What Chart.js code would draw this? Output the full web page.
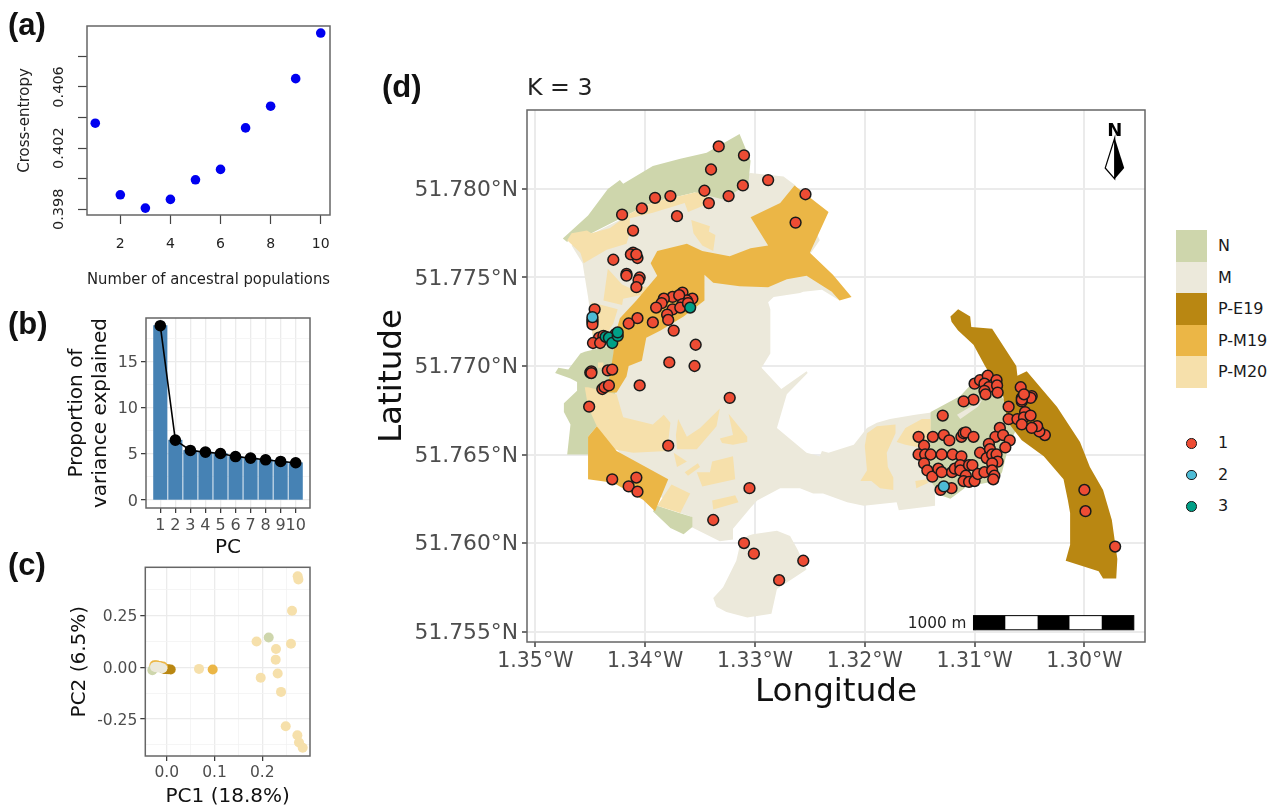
<!DOCTYPE html>
<html>
<head>
<meta charset="utf-8">
<title>Ancestry panels</title>
<script src="https://cdn.jsdelivr.net/npm/chart.js@4/dist/chart.umd.js"></script>
<style>
  html, body { margin: 0; padding: 0; background: #fff; }
  body { width: 1275px; height: 806px; position: relative; overflow: hidden; font-family: "DejaVu Sans", sans-serif; }
  canvas { position: absolute; }
  .tag { position: absolute; font: bold 31px "Liberation Sans", sans-serif; color: #111; line-height: 34px; }
  .lg { position: absolute; font-size: 16px; color: #1a1a1a; line-height: 18px; }
  .sw { position: absolute; left: 1176px; width: 31.3px; height: 31.6px; }
  .dot { position: absolute; left: 1186.2px; width: 8.5px; height: 8.5px; border-radius: 50%; border: 1.4px solid #1a1a1a; }
</style>
</head>
<body>
<canvas id="a"></canvas>
<canvas id="b"></canvas>
<canvas id="c"></canvas>
<canvas id="d"></canvas>
<div class="tag" style="left:8px;top:8px">(a)</div>
<div class="tag" style="left:8px;top:307px">(b)</div>
<div class="tag" style="left:8px;top:548px">(c)</div>
<div class="tag" style="left:382px;top:70px">(d)</div>
<div id="legend"></div>

<script>
// panel a
const kValues = [1, 2, 3, 4, 5, 6, 7, 8, 9, 10];
const crossEntropy = [0.40363, 0.39895, 0.39808, 0.39865, 0.39993, 0.40061, 0.40332, 0.40474, 0.40654, 0.40952];
const kTicks = [2, 4, 6, 8, 10];
const ceTicks = [0.398, 0.400, 0.402, 0.404, 0.406, 0.408];
const ceLabelled = [0.398, 0.402, 0.406];

// panel b
const pcIndex = [1, 2, 3, 4, 5, 6, 7, 8, 9, 10];
const varExplained = [18.84, 6.47, 5.36, 5.18, 5.03, 4.7, 4.53, 4.35, 4.17, 4.03];
const varMajor = [0, 5, 10, 15];
const varMinor = [2.5, 7.5, 12.5, 17.5];

// panel c
const pcaM = [[-0.0244, 0.0016], [-0.0195, -0.0016], [-0.014, -0.0016], [-0.009, -0.005], [-0.021, 0.001], [-0.0165, 0.0]];
const pcaPM20 = [[0.274, 0.439], [0.2755, 0.4236], [0.2622, 0.2723], [0.26, 0.113], [0.188, 0.124], [0.2287, 0.0876],
  [0.228, 0.0366], [0.2322, -0.03], [0.1967, -0.051], [0.2392, -0.119], [0.249, -0.285], [0.2734, -0.328],
  [0.2768, -0.363], [0.2845, -0.3885], [0.0676, -0.008], [-0.022, 0.002]];
const pcaN = [[0.2134, 0.1433], [-0.03, -0.014]];
const pcaPM19 = [[0.0962, -0.011], [-0.0258, 0.0096], [-0.021, 0.009], [-0.014, 0.006], [-0.008, 0.003]];
const pcaPE19 = [[0.0084, -0.011], [-0.0035, -0.008], [-0.008, -0.006], [0.003, -0.01], [-0.002, -0.009]];
const pc1Major = [0, 0.1, 0.2];
const pc1Minor = [0.05, 0.15, 0.25];
const pc2Major = [-0.25, 0, 0.25];
const pc2Minor = [-0.375, -0.125, 0.125, 0.375];

// panel d, map tick values
const lonTicks = [-1.35, -1.34, -1.33, -1.32, -1.31, -1.30];
const latTicks = [51.755, 51.76, 51.765, 51.77, 51.775, 51.78];

// panel d, land use polygons as [lon, lat]
const areaM = [[-1.3304,51.7809],[-1.3274,51.7807],[-1.3263,51.7802],[-1.3241,51.7771],[-1.325,51.7763],[-1.3223,51.7737],[-1.3239,51.7743],[-1.3256,51.7742],[-1.3259,51.77413],[-1.3283,51.7739],[-1.3288,51.7736],[-1.3286,51.7732],[-1.3286,51.7707],[-1.3294,51.7699],[-1.3276,51.7687],[-1.3253,51.7697],[-1.3252,51.7696],[-1.3271,51.7684],[-1.328,51.7665],[-1.3253,51.7651],[-1.3241,51.7649],[-1.3239,51.7652],[-1.3233,51.7651],[-1.321,51.76555],[-1.3198,51.7665],[-1.3189,51.7668],[-1.3177,51.767],[-1.3154,51.76725],[-1.3136,51.7674],[-1.3136,51.7621],[-1.3169,51.76185],[-1.3171,51.7623],[-1.3201,51.7621],[-1.3216,51.7623],[-1.3238,51.7628],[-1.3247,51.7628],[-1.3259,51.7631],[-1.3277,51.7631],[-1.3298,51.7624],[-1.3304,51.762],[-1.332,51.7608],[-1.332,51.7602],[-1.3332,51.7601],[-1.3358,51.7609],[-1.3358,51.7615],[-1.3368,51.7617],[-1.3405,51.7636],[-1.3432,51.7658],[-1.345,51.7687],[-1.3448,51.772],[-1.3452,51.7739],[-1.3457,51.7758],[-1.3467,51.7768],[-1.3441,51.7777],[-1.3396,51.7791],[-1.335,51.7797]];
const areaMSouth = [[-1.3302,51.7605],[-1.328,51.7607],[-1.3268,51.7604],[-1.3261,51.7596],[-1.3253,51.7585],[-1.328,51.7574],[-1.3285,51.756],[-1.3307,51.7558],[-1.3326,51.7561],[-1.3335,51.7564],[-1.3338,51.7569],[-1.3329,51.7575],[-1.3317,51.759],[-1.3314,51.7598],[-1.3307,51.7604]];
const areaMInner = [[-1.3116,51.76725],[-1.3093,51.7681],[-1.3097,51.7677],[-1.3113,51.767]];
const areaNTop = [[-1.3475,51.7772],[-1.3452,51.7785],[-1.3434,51.78],[-1.3423,51.7805],[-1.342,51.7803],[-1.3393,51.7813],[-1.3368,51.7817],[-1.3344,51.78205],[-1.3314,51.7831],[-1.3304,51.7816],[-1.3306,51.7803],[-1.3329,51.7794],[-1.3335,51.7795],[-1.3355,51.7798],[-1.3368,51.7796],[-1.3383,51.7794],[-1.3399,51.7791],[-1.3414,51.7786],[-1.3449,51.7775],[-1.3467,51.7773],[-1.3471,51.777]];
const areaNWest = [[-1.3482,51.7696],[-1.3479,51.7699],[-1.347,51.7698],[-1.3459,51.7707],[-1.3455,51.7708],[-1.3429,51.7712],[-1.3427,51.7685],[-1.3444,51.7666],[-1.3452,51.766],[-1.3452,51.765],[-1.3471,51.765],[-1.3468,51.7667],[-1.3474,51.7674],[-1.3474,51.7679],[-1.3462,51.7686],[-1.3462,51.7691],[-1.3468,51.7693]];
const areaNSouth = [[-1.3389,51.7621],[-1.3369,51.7617],[-1.3357,51.76147],[-1.3357,51.7609],[-1.3365,51.7605],[-1.3377,51.76085],[-1.3393,51.7618]];
const areaNEast = [[-1.314,51.7674],[-1.3113,51.7683],[-1.3092,51.7697],[-1.3071,51.7679],[-1.3063,51.7663],[-1.3069,51.7655],[-1.3075,51.764],[-1.308,51.7635],[-1.3107,51.7632],[-1.3122,51.7625],[-1.3131,51.7627],[-1.3141,51.7636]];
const areaPE19 = [[-1.3122,51.7728],[-1.3115,51.7732],[-1.3104,51.7728],[-1.3103,51.7722],[-1.3084,51.7721],[-1.3062,51.77],[-1.3061,51.76945],[-1.30525,51.7697],[-1.3025,51.7677],[-1.3004,51.7657],[-1.2995,51.7643],[-1.2983,51.763],[-1.2975,51.7613],[-1.297,51.7591],[-1.2971,51.758],[-1.2983,51.758],[-1.2987,51.7584],[-1.3017,51.759],[-1.3013,51.7599],[-1.3013,51.7617],[-1.3015,51.7624],[-1.3019,51.7636],[-1.3037,51.7649],[-1.3057,51.7658],[-1.307,51.76685],[-1.3074,51.7683],[-1.30905,51.77],[-1.3101,51.7712],[-1.3115,51.772],[-1.3121,51.7725]];
const areaPM19Centre = [[-1.3395,51.7758],[-1.3389,51.7765],[-1.3362,51.7769],[-1.3348,51.7765],[-1.3323,51.7762],[-1.3304,51.77665],[-1.3288,51.7768],[-1.3304,51.7784],[-1.3277,51.7792],[-1.3264,51.7802],[-1.3233,51.7787],[-1.325,51.7764],[-1.3229,51.77515],[-1.3212,51.7739],[-1.3223,51.7737],[-1.323,51.7742],[-1.3253,51.7751],[-1.3271,51.7749],[-1.3288,51.77445],[-1.3314,51.7745],[-1.3338,51.7747],[-1.3346,51.77515],[-1.3346,51.7737],[-1.3365,51.7728],[-1.3386,51.772],[-1.3399,51.7716],[-1.3403,51.7703],[-1.3415,51.77],[-1.3417,51.7694],[-1.3426,51.7685],[-1.3436,51.7685],[-1.3432,51.7695],[-1.3429,51.7707],[-1.3428,51.7716],[-1.3423,51.7727],[-1.3408,51.7737],[-1.3389,51.7751]];
const areaPM19South = [[-1.3444,51.7666],[-1.3426,51.7652],[-1.3379,51.7636],[-1.3391,51.7618],[-1.3402,51.76245],[-1.3429,51.7634],[-1.3452,51.7636],[-1.3452,51.766]];
const areaPM20Band = [[-1.3471,51.7771],[-1.3467,51.7775],[-1.3453,51.77765],[-1.3449,51.7775],[-1.3432,51.7778],[-1.3414,51.7786],[-1.3399,51.7791],[-1.3383,51.7794],[-1.3368,51.7796],[-1.3355,51.7798],[-1.3344,51.7798],[-1.3341,51.7792],[-1.3361,51.7787],[-1.3364,51.7792],[-1.3393,51.77865],[-1.3414,51.77835],[-1.3414,51.7775],[-1.3417,51.7769],[-1.3435,51.77656],[-1.3456,51.7758],[-1.3459,51.7764]];
const areaPM20North = [[-1.3358,51.77825],[-1.3341,51.7779],[-1.3342,51.7776],[-1.3336,51.7774],[-1.3338,51.7765],[-1.3348,51.7768],[-1.3356,51.7775]];
const areaPM20Mid = [[-1.3434,51.7755],[-1.3421,51.7746],[-1.3414,51.7744],[-1.3394,51.7745],[-1.3397,51.7741],[-1.342,51.7738],[-1.3421,51.77345],[-1.3438,51.7737],[-1.3436,51.7746]];
const areaPM20West = [[-1.3449,51.7736],[-1.3425,51.7732],[-1.3429,51.7724],[-1.3438,51.7715],[-1.3448,51.7718]];
const areaPM20Speck = [[-1.3443,51.7702],[-1.3438,51.7702],[-1.3438,51.7699],[-1.3443,51.7699]];
const areaPM20Arc = [[-1.3455,51.7688],[-1.3452,51.7688],[-1.3426,51.7684],[-1.342,51.7671],[-1.3393,51.7667],[-1.3383,51.76725],[-1.3377,51.7668],[-1.338,51.7652],[-1.3411,51.7651],[-1.3429,51.7653],[-1.3438,51.766],[-1.3444,51.7666],[-1.3452,51.7677]];
const areaPM20P1 = [[-1.337,51.767],[-1.3362,51.766],[-1.335,51.7665],[-1.3332,51.7676],[-1.3335,51.7666],[-1.3353,51.7653],[-1.3371,51.7653],[-1.3372,51.7661]];
const areaPM20P2 = [[-1.3324,51.7673],[-1.3307,51.766],[-1.3307,51.7657],[-1.332,51.76555],[-1.333,51.76565],[-1.3332,51.7659],[-1.332,51.7661]];
const areaPM20P3 = [[-1.3374,51.7651],[-1.3362,51.7646],[-1.3371,51.7643]];
const areaPM20P4 = [[-1.3364,51.764],[-1.3352,51.7645],[-1.335,51.7643],[-1.3361,51.7638]];
const areaPM20P5 = [[-1.3353,51.764],[-1.3341,51.764],[-1.3339,51.7646],[-1.332,51.7649],[-1.3318,51.7636],[-1.3348,51.7632]];
const areaPM20P6 = [[-1.3339,51.7624],[-1.3318,51.7627],[-1.3315,51.7623],[-1.3338,51.7619]];
const areaPM20P7 = [[-1.3376,51.7633],[-1.3359,51.7628],[-1.3368,51.7617],[-1.3389,51.7621]];
const areaPM20R1 = [[-1.3198,51.7662],[-1.3189,51.7666],[-1.3172,51.7667],[-1.3172,51.7662],[-1.318,51.7651],[-1.3179,51.7643],[-1.3174,51.7637],[-1.3174,51.763],[-1.3186,51.7631],[-1.3194,51.7635],[-1.3204,51.7635],[-1.3198,51.7641],[-1.32,51.7655]];
const areaPM20R2 = [[-1.3171,51.7657],[-1.3163,51.7665],[-1.3148,51.767],[-1.314,51.767],[-1.314,51.7658],[-1.315,51.7654],[-1.3163,51.76555]];
const areaPM20R3 = [[-1.3154,51.7635],[-1.3144,51.7636],[-1.3142,51.7634],[-1.3153,51.7631]];

// panel d, samples by cluster
const samples1 = [[-1.3333,51.7824],[-1.331,51.7819],[-1.334,51.7811],[-1.3288,51.7805],[-1.3346,51.7799],[-1.3311,51.7802],[-1.3324,51.7796],[-1.3254,51.7797],[-1.3342,51.7792],[-1.3377,51.7796],[-1.3391,51.7795],[-1.3403,51.7789],[-1.3421,51.77855],[-1.3371,51.77846],[-1.3263,51.7781],[-1.3411,51.77765],
  [-1.3411,51.7764],[-1.3407,51.7761],[-1.3413,51.7763],[-1.3408,51.7763],[-1.3429,51.776],[-1.3417,51.7752],[-1.3417,51.7751],[-1.3405,51.775],[-1.3406,51.77485],[-1.3408,51.77445],
  [-1.3366,51.77415],[-1.3375,51.7739],[-1.3383,51.7738],[-1.3357,51.7738],[-1.3362,51.7737],[-1.3369,51.774],[-1.3366,51.7735],[-1.3385,51.77355],[-1.339,51.7733],[-1.3375,51.7732],[-1.3368,51.7733],[-1.3361,51.77355],[-1.338,51.7729],[-1.3379,51.7726],[-1.3393,51.77246],[-1.3407,51.7727],[-1.3415,51.7724],[-1.3374,51.772],
  [-1.3448,51.77249],[-1.3448,51.7726],[-1.3448,51.77235],[-1.3446,51.7732],
  [-1.3442,51.7716],[-1.3438,51.7717],[-1.3427,51.7718],[-1.34475,51.7713],[-1.3441,51.7713],
  [-1.345,51.76963],[-1.3449,51.7697],[-1.3449,51.7696],[-1.3434,51.76975],[-1.343,51.7698],[-1.3439,51.7687],[-1.3437,51.7688],[-1.3433,51.7689],[-1.3405,51.7689],[-1.3451,51.7677],
  [-1.3354,51.7712],[-1.3378,51.7702],[-1.3355,51.77],[-1.3323,51.7682],[-1.3379,51.7655],[-1.3305,51.7631],[-1.3338,51.7613],[-1.331,51.76],[-1.3301,51.7594],[-1.3256,51.759],[-1.3278,51.7579],[-1.343,51.7636],[-1.3408,51.7637],[-1.3415,51.7632],[-1.3407,51.7629],
  [-1.31,51.769],[-1.3095,51.7692],[-1.3088,51.76945],[-1.3091,51.769],[-1.308,51.7692],[-1.3087,51.7688],[-1.30795,51.7689],[-1.3091,51.7686],[-1.309,51.7684],[-1.3079,51.7685],[-1.3101,51.7681],[-1.311,51.768],[-1.3129,51.7672],
  [-1.3058,51.7688],[-1.3048,51.7683],[-1.3049,51.7682],[-1.3057,51.7682],[-1.3057,51.768],[-1.3057,51.7681],[-1.3055,51.7684],[-1.3069,51.7677],[-1.3054,51.7674],[-1.3069,51.767],[-1.3061,51.767],[-1.3055,51.7671],[-1.3049,51.7672],[-1.3057,51.7667],[-1.3036,51.7661],[-1.3041,51.7663],[-1.3043,51.7666],[-1.3048,51.7665],
  [-1.3077,51.7665],[-1.3081,51.766],[-1.3074,51.7661],[-1.3068,51.7658],[-1.3072,51.7654],
  [-1.3151,51.766],[-1.3138,51.766],[-1.3128,51.7661],[-1.3123,51.7658],[-1.3112,51.766],[-1.311,51.7662],[-1.3108,51.76625],[-1.3101,51.766],[-1.3146,51.7655],[-1.3151,51.765],[-1.3145,51.7650],[-1.314,51.765],[-1.313,51.765],[-1.312,51.765],[-1.3112,51.7649],[-1.3095,51.7651],
  [-1.3087,51.7656],[-1.3086,51.7653],[-1.3089,51.7648],[-1.3084,51.765],[-1.308,51.765],[-1.3079,51.7646],[-1.3084,51.7645],[-1.3146,51.7645],[-1.3143,51.7641],[-1.31385,51.76375],[-1.3133,51.7642],[-1.313,51.764],[-1.31205,51.764],[-1.3118,51.7642],[-1.3113,51.7644],[-1.3113,51.7641],[-1.3105,51.7644],[-1.3102,51.7644],[-1.3108,51.7638],[-1.311,51.7635],[-1.3105,51.76345],[-1.31,51.7635],[-1.3097,51.7639],[-1.3091,51.764],[-1.3084,51.7641],[-1.3082,51.7638],[-1.3083,51.7636],[-1.3131,51.763],[-1.3121,51.7631],
  [-1.3,51.763],[-1.2999,51.7618],[-1.2972,51.7598]];
const samples2 = [[-1.3448,51.77276],[-1.3128,51.7632]];
const samples3 = [[-1.3436,51.77165],[-1.3433,51.7716],[-1.343,51.7713],[-1.3425,51.7717],[-1.3425,51.7719],[-1.3359,51.7733]];

// legend
const areaLegend = ["N", "M", "P-E19", "P-M19", "P-M20"];
const clusterLegend = ["1", "2", "3"];

const colN = "#CED6AC", colM = "#ECE9DB", colE19 = "#B98712", colM19 = "#EBB646", colM20 = "#F6E0AB";
const clusterColors = ["#EE4C34", "#4DBBD5", "#00A087"];
const tickGrey = "#4D4D4D";
const font = "DejaVu Sans";

Chart.defaults.font.family = font;
Chart.defaults.animation = false;
Chart.defaults.responsive = false;
Chart.defaults.plugins.legend.display = false;
Chart.defaults.plugins.tooltip.enabled = false;

function place(id, left, top, w, h) {
    const c = document.getElementById(id);
    c.width = w; c.height = h;
    c.style.left = left + "px"; c.style.top = top + "px";
    c.style.width = w + "px"; c.style.height = h + "px";
    return c;
}

// rectangle round the plot, ggplot style
const panelBox = {
    id: "panelBox",
    afterDatasetsDraw(chart) {
        const { ctx, chartArea: a } = chart;
        ctx.save();
        ctx.strokeStyle = "#666";
        ctx.lineWidth = 1.5;
        ctx.strokeRect(a.left, a.top, a.right - a.left, a.bottom - a.top);
        ctx.restore();
    }
};

function fixedTicks(values) {
    return scale => { scale.ticks = values.map(v => ({ value: v })); };
}
const isIn = (list, v) => list.some(m => Math.abs(m - v) < 1e-9);
const toXY = pts => pts.map(p => ({ x: p[0], y: p[1] }));

// panel a
const rotatedCeTicks = {
    id: "rotatedCeTicks",
    afterDraw(chart) {
        const { ctx, scales } = chart;
        ctx.save();
        ctx.font = "14.5px " + font;
        ctx.fillStyle = "#222";
        ctx.textAlign = "center";
        ctx.textBaseline = "middle";
        ceLabelled.forEach(v => {
            ctx.save();
            ctx.translate(59.5, scales.y.getPixelForValue(v));
            ctx.rotate(-Math.PI / 2);
            ctx.fillText(v.toFixed(3), 0, 0);
            ctx.restore();
        });
        ctx.restore();
    }
};
new Chart(place("a", 0, 0, 345, 295), {
    type: "scatter",
    data: { datasets: [{ data: kValues.map((k, i) => ({ x: k, y: crossEntropy[i] })), backgroundColor: "#0000F0", pointRadius: 4.8, pointBorderWidth: 0 }] },
    options: {
        layout: { padding: { top: 26, right: 15 } },
        scales: {
            x: {
                type: "linear", min: 0.67, max: 10.37,
                afterBuildTicks: fixedTicks(kTicks),
                afterFit: s => { s.height = 80; },
                border: { display: false },
                grid: { drawOnChartArea: false, tickLength: 9, tickColor: "#444", tickWidth: 1.2 },
                ticks: { color: "#222", font: { size: 14 }, padding: 12, maxRotation: 0, autoSkip: false },
                title: { display: true, text: "Number of ancestral populations", color: "#222", font: { size: 15 }, padding: { top: 0, bottom: 6 } }
            },
            y: {
                min: 0.39763, max: 0.40998,
                afterBuildTicks: fixedTicks(ceTicks),
                afterFit: s => { s.width = 87; },
                border: { display: false },
                grid: { drawOnChartArea: false, tickLength: 9, tickColor: "#444", tickWidth: 1.2 },
                ticks: { display: false },
                title: { display: true, text: "Cross-entropy", color: "#222", font: { size: 15 }, padding: { top: 16.5, bottom: 0 } }
            }
        }
    },
    plugins: [panelBox, rotatedCeTicks]
});

// panel b
const varTicks = varMajor.concat(varMinor).sort((p, q) => p - q);
new Chart(place("b", 0, 300, 345, 260), {
    data: {
        datasets: [
            { type: "line", data: pcIndex.map((k, i) => ({ x: k, y: varExplained[i] })), borderColor: "#000", borderWidth: 1.6, backgroundColor: "#000", pointRadius: 5, tension: 0, order: 1 },
            { type: "bar", data: pcIndex.map((k, i) => ({ x: k, y: varExplained[i] })), backgroundColor: "#4682B4", barThickness: 13.5, order: 2 }
        ]
    },
    options: {
        layout: { padding: { top: 18, right: 35 } },
        scales: {
            x: {
                type: "linear", min: 0.05, max: 10.95, offset: false,
                afterBuildTicks: fixedTicks(pcIndex),
                afterFit: s => { s.height = 52; },
                border: { display: false },
                grid: { offset: false, color: "#EBEBEB", lineWidth: 1.3, tickLength: 5, tickColor: "#333", tickWidth: 1.2 },
                ticks: { color: tickGrey, font: { size: 16 }, padding: 3, maxRotation: 0, autoSkip: false, callback: v => String(v) },
                title: { display: true, text: "PC", color: "#111", font: { size: 20 }, padding: { top: 0, bottom: 0 } }
            },
            y: {
                min: -0.86, max: 19.67,
                afterBuildTicks: fixedTicks(varTicks),
                afterFit: s => { s.width = 146; },
                border: { display: false },
                grid: {
                    color: c => isIn(varMajor, c.tick.value) ? "#EBEBEB" : "#F3F3F3",
                    lineWidth: c => isIn(varMajor, c.tick.value) ? 1.3 : 0.8,
                    tickLength: 5,
                    tickColor: c => isIn(varMajor, c.tick.value) ? "#333" : "rgba(0,0,0,0)",
                    tickWidth: 1.2
                },
                ticks: { color: tickGrey, font: { size: 16 }, padding: 3, labelOffset: 1.5, autoSkip: false, callback: v => isIn(varMajor, v) ? String(v) : "" },
                title: { display: true, text: ["Proportion of", "variance explained"], color: "#111", font: { size: 20 }, padding: { top: 65, bottom: 0 } }
            }
        }
    },
    plugins: [panelBox]
});

// panel c
const dotStyle = c => ({ data: toXY(c.pts), backgroundColor: c.col, pointRadius: 5, pointBorderWidth: 0 });
const pc1Ticks = pc1Major.concat(pc1Minor).sort((p, q) => p - q);
const pc2Ticks = pc2Major.concat(pc2Minor).sort((p, q) => p - q);
new Chart(place("c", 0, 555, 345, 255), {
    type: "scatter",
    data: {
        datasets: [
            { pts: pcaM, col: colM },
            { pts: pcaPM20, col: colM20 },
            { pts: pcaN, col: colN },
            { pts: pcaPM19, col: colM19 },
            { pts: pcaPE19, col: colE19 }
        ].map(dotStyle)
    },
    options: {
        layout: { padding: { top: 10.3, right: 35 } },
        scales: {
            x: {
                type: "linear", min: -0.0448, max: 0.2998,
                afterBuildTicks: fixedTicks(pc1Ticks),
                afterFit: s => { s.height = 54; },
                border: { display: false },
                grid: {
                    color: c => isIn(pc1Major, c.tick.value) ? "#EBEBEB" : "#F3F3F3",
                    lineWidth: c => isIn(pc1Major, c.tick.value) ? 1.3 : 0.8,
                    tickLength: 5,
                    tickColor: c => isIn(pc1Major, c.tick.value) ? "#333" : "rgba(0,0,0,0)",
                    tickWidth: 1.2
                },
                ticks: { color: tickGrey, font: { size: 15.5 }, padding: 3, maxRotation: 0, autoSkip: false, callback: v => isIn(pc1Major, v) ? v.toFixed(1) : "" },
                title: { display: true, text: "PC1 (18.8%)", color: "#111", font: { size: 20 }, padding: { top: 0, bottom: 1 } }
            },
            y: {
                min: -0.4284, max: 0.4823,
                afterBuildTicks: fixedTicks(pc2Ticks),
                afterFit: s => { s.width = 145.3; },
                border: { display: false },
                grid: {
                    color: c => isIn(pc2Major, c.tick.value) ? "#EBEBEB" : "#F3F3F3",
                    lineWidth: c => isIn(pc2Major, c.tick.value) ? 1.3 : 0.8,
                    tickLength: 5,
                    tickColor: c => isIn(pc2Major, c.tick.value) ? "#333" : "rgba(0,0,0,0)",
                    tickWidth: 1.2
                },
                ticks: { color: tickGrey, font: { size: 15.5 }, padding: 3, labelOffset: 1.5, autoSkip: false, callback: v => isIn(pc2Major, v) ? v.toFixed(2) : "" },
                title: { display: true, text: "PC2 (6.5%)", color: "#111", font: { size: 20 }, padding: { top: 68, bottom: 0 } }
            }
        }
    },
    plugins: [panelBox]
});

// panel d
function area(points, col, order) {
    return { type: "scatter", data: toXY(points), showLine: true, fill: "shape", backgroundColor: col, borderWidth: 0, pointRadius: 0, tension: 0, order: order };
}
function sampleSet(points, col, order) {
    return { type: "scatter", data: toXY(points), showLine: false, backgroundColor: col, borderColor: "#1a1a1a", pointRadius: 5.4, pointBorderWidth: 1.5, order: order };
}
const mapExtras = {
    id: "mapExtras",
    afterDatasetsDraw(chart) {
        const { ctx, scales: { x, y }, chartArea: a } = chart;
        ctx.save();
        // scale bar, five equal pieces
        const x0 = x.getPixelForValue(-1.3101), x1 = x.getPixelForValue(-1.2955);
        const y0 = y.getPixelForValue(51.7559), y1 = y.getPixelForValue(51.7551);
        const piece = (x1 - x0) / 5;
        for (let i = 0; i < 5; i++) {
            ctx.fillStyle = i % 2 ? "#fff" : "#000";
            ctx.fillRect(x0 + i * piece, y0, piece, y1 - y0);
        }
        ctx.strokeStyle = "#000";
        ctx.lineWidth = 1;
        ctx.strokeRect(x0, y0, x1 - x0, y1 - y0);
        ctx.fillStyle = "#222";
        ctx.font = "15.3px " + font;
        ctx.textAlign = "right";
        ctx.textBaseline = "middle";
        ctx.fillText("1000 m", x0 - 7, (y0 + y1) / 2 + 1);
        // north arrow
        const cx = a.right - 30.3, top = a.top + 28;
        ctx.fillStyle = "#000";
        ctx.font = "bold 18px " + font;
        ctx.textAlign = "center";
        ctx.fillText("N", cx, a.top + 21);
        ctx.beginPath();
        ctx.moveTo(cx, top); ctx.lineTo(cx + 9.5, top + 30); ctx.lineTo(cx, top + 41); ctx.closePath();
        ctx.fill();
        ctx.beginPath();
        ctx.moveTo(cx, top); ctx.lineTo(cx - 9.5, top + 30); ctx.lineTo(cx, top + 41); ctx.closePath();
        ctx.fillStyle = "#fff";
        ctx.fill();
        ctx.lineWidth = 1.2;
        ctx.stroke();
        ctx.restore();
    }
};
new Chart(place("d", 370, 60, 785, 655), {
    data: {
        datasets: [
            sampleSet(samples2, clusterColors[1], 1),
            sampleSet(samples3, clusterColors[2], 2),
            sampleSet(samples1, clusterColors[0], 3),
            area(areaPE19, colE19, 20),
            area(areaPM19Centre, colM19, 21),
            area(areaPM19South, colM19, 21)
        ].concat([areaPM20Band, areaPM20North, areaPM20Mid, areaPM20West, areaPM20Speck, areaPM20Arc, areaPM20P1, areaPM20P2, areaPM20P3, areaPM20P4, areaPM20P5, areaPM20P6, areaPM20P7, areaPM20R1, areaPM20R2, areaPM20R3].map(p => area(p, colM20, 30)))
         .concat([area(areaMInner, colM, 35)])
         .concat([areaNTop, areaNWest, areaNSouth, areaNEast].map(p => area(p, colN, 40)))
         .concat([areaM, areaMSouth].map(p => area(p, colM, 50)))
    },
    options: {
        layout: { padding: { top: 15, right: 10 } },
        plugins: {
            title: { display: true, text: "K = 3", align: "start", fullSize: false, color: "#222", font: { size: 23.7, weight: "normal" }, padding: { top: 0, bottom: 6.56 } }
        },
        scales: {
            x: {
                type: "linear", min: -1.35076, max: -1.29448,
                afterBuildTicks: fixedTicks(lonTicks),
                afterFit: s => { s.height = 73; },
                border: { display: false },
                grid: { color: "#EBEBEB", lineWidth: 2, tickLength: 5, tickColor: "#333", tickWidth: 1.4 },
                ticks: { color: tickGrey, font: { size: 20.5 }, padding: 2, maxRotation: 0, autoSkip: false, callback: v => Math.abs(v).toFixed(2) + "°W" },
                title: { display: true, text: "Longitude", color: "#111", font: { size: 32.6 }, padding: { top: 0, bottom: 3 } }
            },
            y: {
                type: "linear", min: 51.75441, max: 51.78446,
                afterBuildTicks: fixedTicks(latTicks),
                afterFit: s => { s.width = 157; },
                border: { display: false },
                grid: { color: "#EBEBEB", lineWidth: 2, tickLength: 5, tickColor: "#333", tickWidth: 1.4 },
                ticks: { color: tickGrey, font: { size: 21.8 }, padding: 4, labelOffset: 1.5, autoSkip: false, callback: v => v.toFixed(3) + "°N" },
                title: { display: true, text: "Latitude", color: "#111", font: { size: 32.6 }, padding: { top: 3, bottom: 0 } }
            }
        }
    },
    plugins: [panelBox, mapExtras]
});

// legends at the right of the map
const legendBox = document.getElementById("legend");
const swatchCols = [colN, colM, colE19, colM19, colM20];
areaLegend.forEach((name, i) => {
    legendBox.insertAdjacentHTML("beforeend",
        `<div class="sw" style="top:${230 + i * 31.5}px;background:${swatchCols[i]}"></div>` +
        `<div class="lg" style="left:1218px;top:${237 + i * 31.5}px">${name}</div>`);
});
clusterLegend.forEach((name, i) => {
    legendBox.insertAdjacentHTML("beforeend",
        `<div class="dot" style="top:${438 + i * 31.7}px;background:${clusterColors[i]}"></div>` +
        `<div class="lg" style="left:1218px;top:${434 + i * 31.7}px">${name}</div>`);
});
</script>
</body>
</html>
